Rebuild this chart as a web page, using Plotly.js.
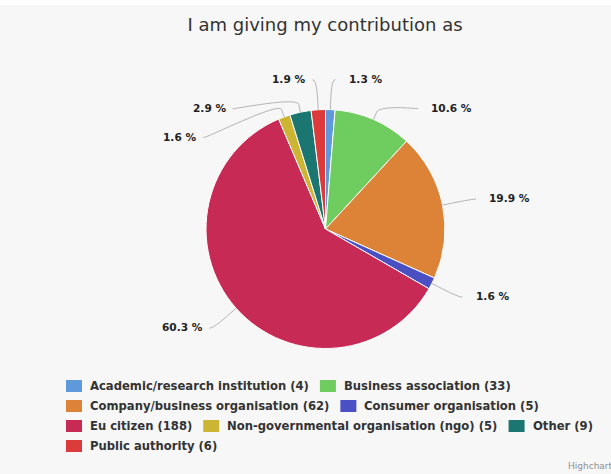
<!DOCTYPE html>
<html><head><meta charset="utf-8">
<script src="https://cdn.plot.ly/plotly-3.0.1.min.js"></script>
<style>html,body{margin:0;padding:0;background:#f7f7f7}</style>
</head><body><div id="chart" style="width:611px;height:474px"></div>
<script>
const categories = ["Academic/research institution","Business association","Company/business organisation","Consumer organisation","Eu citizen","Non-governmental organisation (ngo)","Other","Public authority"];
const counts = [4,33,62,5,188,5,9,6];
const colors = ["#5f99dc","#6fcc5e","#dc8337","#4a4fc4","#c62a55","#ccb532","#1b7571","#dd3b3b"];
const chartTitle = "I am giving my contribution as";

const cv=document.createElement('canvas').getContext('2d');
const W=611,H=474, M={l:40,r:31,t:0,b:0};
const pw=W-M.l-M.r, ph=H-M.t-M.b;
const px2x=p=>(p-M.l)/pw, py2y=p=>1-(p-M.t)/ph;
const cx=325.5, cy=229, R=119.5;
const FONT='"DejaVu Sans", sans-serif';

const total=counts.reduce((a,b)=>a+b,0);
let cum=0;
const sl=counts.map((v,i)=>{const mid=(cum+v/2)/total;cum+=v;const th=mid*2*Math.PI;
  return {i,sin:Math.sin(th),cos:Math.cos(th),pct:(v/total*100).toFixed(1)+' %'};});
const DIST=30, SP=29, Rl=R+DIST;
sl.forEach(s=>{s.right=s.sin>=0;s.y=cy-Rl*s.cos;});
[true,false].forEach(side=>{const a=sl.filter(s=>s.right===side).sort((p,q)=>p.y-q.y);
  for(let k=1;k<a.length;k++) if(a[k].y<a[k-1].y+SP) a[k].y=a[k-1].y+SP;});
const annotations=[], shapes=[];
sl.forEach(s=>{
  const dy=s.y-cy, dx=Math.sqrt(Math.max(0,Rl*Rl-dy*dy));
  const sg=s.right?1:-1, xb=cx+sg*dx;
  const tx=s.right?xb+15:xb-9;
  annotations.push({xref:'paper',yref:'paper',x:px2x(tx),y:py2y(s.y-1),xanchor:s.right?'left':'right',yanchor:'middle',
    showarrow:false,text:s.pct,font:{family:FONT,size:10.6,color:'#222',weight:'bold'}});
  const st=[xb+sg*4,s.y], p4=[cx+R*s.sin,cy-R*s.cos], p2=[cx+(R+8)*s.sin,cy-(R+8)*s.cos];
  const c2=[2*p2[0]-p4[0],2*p2[1]-p4[1]];
  const P=p=>px2x(p[0]).toFixed(5)+','+py2y(p[1]).toFixed(5);
  shapes.push({type:'path',xref:'paper',yref:'paper',path:'M'+P(st)+' C'+P([xb,s.y])+' '+P(c2)+' '+P(p2)+' L'+P(p4),
    line:{color:'#b4b4b4',width:1}});
});
// legend (flow layout like the original)
const LSIZE=11.6;
const LF='bold '+LSIZE+'px "DejaVu Sans"';
let lx=66, ly=386; const LX0=66, LMAX=610, ROWH=20, GAP=12;
categories.forEach((c,i)=>{
  const t=c+' ('+counts[i]+')';
  cv.font=LF; const w=23+cv.measureText(t).width;
  if(lx+w>LMAX && lx>LX0){lx=LX0;ly+=ROWH;}
  shapes.push({type:'rect',xref:'paper',yref:'paper',x0:px2x(lx),x1:px2x(lx+16),y0:py2y(ly+6),y1:py2y(ly-6),
    fillcolor:colors[i],line:{width:0}});
  annotations.push({xref:'paper',yref:'paper',x:px2x(lx+22),y:py2y(ly),xanchor:'left',yanchor:'middle',showarrow:false,
    text:t,font:{family:FONT,size:LSIZE,color:'#333',weight:'bold'}});
  lx+=w+GAP;
});
annotations.push({xref:'paper',yref:'paper',x:px2x(566),y:py2y(466),xanchor:'left',yanchor:'middle',showarrow:false,
  text:'Highcharts.com',font:{family:FONT,size:9,color:'#909090'}});
shapes.push({type:'rect',xref:'paper',yref:'paper',x0:px2x(0),x1:px2x(W),y0:py2y(5),y1:py2y(0),fillcolor:'#ffffff',line:{width:0},layer:'below'});

Plotly.newPlot('chart',[{type:'pie',labels:categories,values:counts,sort:false,direction:'clockwise',rotation:0,
  marker:{colors:colors,line:{color:'#ffffff',width:1}},textinfo:'none',showlegend:false,
  domain:{x:[px2x(cx-R),px2x(cx+R)],y:[py2y(cy+R),py2y(cy-R)]}}],
 {width:W,height:H,margin:M,paper_bgcolor:'#f7f7f7',plot_bgcolor:'#f7f7f7',showlegend:false,
  title:{text:chartTitle,x:325/W,xref:'container',xanchor:'center',y:1-25/H,yref:'container',yanchor:'middle',
    font:{family:FONT,size:18,color:'#333'}},
  annotations:annotations,shapes:shapes},{displayModeBar:false,staticPlot:true});
</script></body></html>
